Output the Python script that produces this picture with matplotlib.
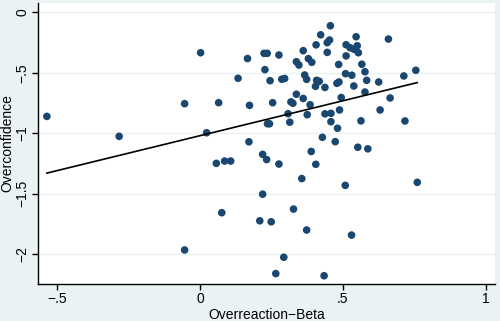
import numpy as np
import matplotlib
matplotlib.use("Agg")
import matplotlib.pyplot as plt

# Overreaction beta vs overconfidence
beta = [-0.536, -0.283, -0.054, 0.002, 0.023, 0.065, 0.133, 0.166, 0.173, 0.171,
        0.057, 0.086, 0.107, 0.076, -0.054, 0.224, 0.235, 0.276, 0.337, 0.346,
        0.227, 0.245, 0.286, 0.296, 0.456, 0.422, 0.406, 0.453, 0.445, 0.361,
        0.445, 0.546, 0.659, 0.511, 0.525, 0.539, 0.550, 0.554, 0.511, 0.379,
        0.391, 0.485, 0.566, 0.577, 0.509, 0.531, 0.366, 0.373, 0.583, 0.625,
        0.408, 0.417, 0.404, 0.437, 0.479, 0.486, 0.538, 0.713, 0.755, 0.577,
        0.665, 0.494, 0.337, 0.361, 0.318, 0.325, 0.385, 0.254, 0.308, 0.375,
        0.437, 0.458, 0.488, 0.630, 0.236, 0.243, 0.314, 0.458, 0.563, 0.717,
        0.481, 0.428, 0.473, 0.389, 0.552, 0.587, 0.219, 0.233, 0.276, 0.219,
        0.327, 0.209, 0.249, 0.405, 0.356, 0.508, 0.373, 0.760, 0.530, 0.293,
        0.265, 0.434]
overconf = [-0.860, -1.025, -0.755, -0.334, -0.995, -0.747, -0.545, -0.382, -0.769, -1.070,
            -1.248, -1.229, -1.229, -1.656, -1.964, -0.339, -0.339, -0.353, -0.408, -0.436,
            -0.474, -0.565, -0.553, -0.547, -0.111, -0.186, -0.269, -0.229, -0.251, -0.317,
            -0.331, -0.202, -0.221, -0.268, -0.293, -0.306, -0.276, -0.334, -0.360, -0.383,
            -0.413, -0.431, -0.429, -0.491, -0.507, -0.520, -0.518, -0.554, -0.562, -0.576,
            -0.562, -0.570, -0.612, -0.621, -0.587, -0.576, -0.609, -0.526, -0.479, -0.659,
            -0.708, -0.704, -0.677, -0.712, -0.740, -0.752, -0.764, -0.747, -0.838, -0.846,
            -0.839, -0.835, -0.807, -0.807, -0.921, -0.921, -0.908, -0.904, -0.897, -0.898,
            -0.958, -1.033, -1.069, -1.150, -1.115, -1.128, -1.174, -1.217, -1.254, -1.503,
            -1.626, -1.723, -1.731, -1.256, -1.374, -1.430, -1.799, -1.405, -1.841, -2.024,
            -2.159, -2.177]

xticks = [-0.5, 0, 0.5, 1]
xtick_labels = ["\u2212.5", "0", ".5", "1"]
yticks = [0, -0.5, -1, -1.5, -2]
ytick_labels = ["0", "\u2212.5", "\u22121", "\u22121.5", "\u22122"]

bg = "#EAF2F3"
navy = "#1A476F"

plt.rcParams['font.family'] = ['Liberation Sans', 'DejaVu Sans']

x = np.array(beta)
y = np.array(overconf)
# linear fit line, drawn over the range of the data
slope, intercept = np.polyfit(x, y, 1)
xfit = np.array([x.min(), x.max()])
yfit = intercept + slope * xfit

fig = plt.figure(figsize=(5, 3.21), dpi=100, facecolor=bg)
ax = fig.add_axes([0.076, 0.1153, 0.914, 0.8754])
ax.set_facecolor("white")

ax.scatter(x, y, s=30, color=navy, edgecolors="none", zorder=3)
ax.plot(xfit, yfit, color="black", lw=1.2, zorder=4)

ax.set_xlim(-0.567, 1.032)
ax.set_ylim(-2.245, 0.077)
ax.set_xticks(xticks)
ax.set_xticklabels(xtick_labels, fontsize=10)
ax.set_yticks(yticks)
ax.set_yticklabels(ytick_labels, fontsize=10, rotation=90, va="center")
ax.grid(axis="y", color=bg, lw=1.0, zorder=0)
ax.tick_params(direction="out", length=4, width=1, color="black", pad=2)

for side in ["top", "right"]:
    ax.spines[side].set_visible(False)
for side in ["left", "bottom"]:
    ax.spines[side].set_color("black")
    ax.spines[side].set_linewidth(1.0)

ax.set_xlabel("Overreaction\u2212Beta", fontsize=10, labelpad=1)
ax.set_ylabel("Overconfidence", fontsize=10, labelpad=1)

fig.savefig("out.png", dpi=100, facecolor=bg)
